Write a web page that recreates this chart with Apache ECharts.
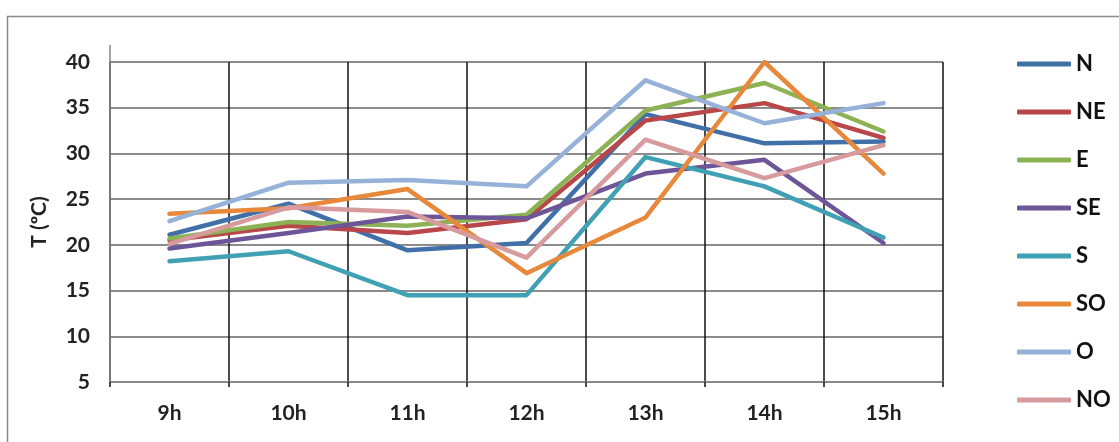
<!DOCTYPE html>
<html>
<head>
<meta charset="utf-8">
<script src="https://cdn.jsdelivr.net/npm/echarts@6/dist/echarts.min.js"></script>
<style>
  html, body { margin: 0; padding: 0; background: #ffffff; }
  #chart { width: 1119px; height: 442px; }
</style>
</head>
<body>
<div id="chart"></div>
<script>
// Hourly temperatures by orientation
const hours = ['9h', '10h', '11h', '12h', '13h', '14h', '15h'];
const seriesNames = ['N', 'NE', 'E', 'SE', 'S', 'SO', 'O', 'NO'];

const tN  = [21.1, 24.5, 19.4, 20.2, 34.3, 31.1, 31.3];
const tNE = [20.5, 22.1, 21.3, 22.8, 33.6, 35.5, 31.7];
const tE  = [20.7, 22.5, 22.1, 23.3, 34.7, 37.7, 32.4];
const tSE = [19.6, 21.3, 23.1, 22.9, 27.8, 29.3, 20.2];
const tS  = [18.2, 19.3, 14.5, 14.5, 29.6, 26.4, 20.8];
const tSO = [23.4, 24.0, 26.1, 16.9, 23.0, 40.0, 27.8];
const tO  = [22.6, 26.8, 27.1, 26.4, 38.0, 33.3, 35.5];
const tNO = [20.1, 24.1, 23.6, 18.6, 31.5, 27.3, 30.9];

const yTicks = [5, 10, 15, 20, 25, 30, 35, 40];

const values = [tN, tNE, tE, tSE, tS, tSO, tO, tNO];
const colors = ['#4170A9', '#B9474A', '#8DB255', '#6E5597', '#40A1B5', '#E8883A', '#96B2D8', '#D79A9D'];

const FONT = 'Lato';
const grid = { left: 110, right: 176, top: 62, bottom: 60 };

const chart = echarts.init(document.getElementById('chart'), null, { renderer: 'canvas' });

chart.setOption({
  animation: false,
  backgroundColor: '#ffffff',
  textStyle: { fontFamily: FONT },
  color: colors,
  grid: grid,
  legend: {
    orient: 'vertical',
    left: 1012,
    top: 48,
    itemWidth: 54,
    itemHeight: 5,
    itemGap: 26,
    icon: 'roundRect',
    data: seriesNames,
    textStyle: { fontFamily: FONT, fontSize: 22, fontWeight: 'bold', color: '#111', lineHeight: 20 }
  },
  xAxis: {
    type: 'category',
    data: hours,
    boundaryGap: true,
    axisLine: { lineStyle: { color: '#888', width: 1.5 } },
    axisTick: { show: true, length: 5, lineStyle: { color: '#111', width: 1.5 } },
    splitLine: { show: true, lineStyle: { color: '#111', width: 1.5 } },
    axisLabel: { fontFamily: FONT, fontSize: 21, fontWeight: 'bold', color: '#222', margin: 21 }
  },
  yAxis: {
    type: 'value',
    min: yTicks[0],
    max: yTicks[yTicks.length - 1],
    interval: 5,
    name: 'T (ºC)',
    nameLocation: 'middle',
    nameGap: 60,
    nameRotate: 90,
    nameTextStyle: { fontFamily: FONT, fontSize: 21, fontWeight: 'bold', color: '#222' },
    axisLine: { show: true, lineStyle: { color: '#888', width: 1.5 } },
    axisTick: { show: false },
    splitLine: { show: true, lineStyle: { color: '#666', width: 1.5 } },
    axisLabel: { fontFamily: FONT, fontSize: 21, fontWeight: 'bold', color: '#222', margin: 20 }
  },
  series: seriesNames.map((name, i) => ({
    name: name,
    type: 'line',
    data: values[i],
    showSymbol: false,
    symbol: 'none',
    lineStyle: { width: 4.5, color: colors[i], cap: 'round', join: 'round' },
    itemStyle: { color: colors[i] }
  })),
  graphic: [
    // outer frame
    {
      type: 'rect',
      shape: { x: 7.5, y: 16.5, width: 1130, height: 460 },
      style: { fill: 'none', stroke: '#8a8a8a', lineWidth: 1.5 },
      silent: true, z: -1
    },
    // value axis line continues a little above the top gridline
    {
      type: 'line',
      shape: { x1: grid.left, y1: grid.top - 17, x2: grid.left, y2: grid.top },
      style: { stroke: '#888', lineWidth: 1.5 },
      silent: true
    }
  ]
});
</script>
</body>
</html>
